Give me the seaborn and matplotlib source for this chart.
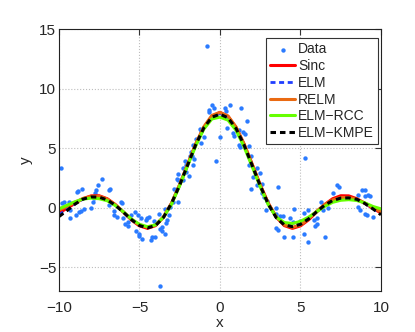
import numpy as np
import matplotlib
matplotlib.use("Agg")
import matplotlib.pyplot as plt
import seaborn as sns

# noisy samples
data_x = [-9.9, -9.8, -9.7, -9.4, -9.3, -9.3, -8.9, -8.8, -8.55, -8.95,
          -8.75, -8.6, -8.45, -8.0, -7.9, -7.75, -7.7, -7.55, -7.35, -7.8,
          -6.9, -6.85, -6.9, -6.6, -6.6, -6.4, -6.15, -6.1, -6.0, -5.9,
          -5.7, -5.7, -5.5, -5.3, -5.2, -5.05, -5.0, -5.1, -4.85, -4.9,
          -4.6, -4.5, -4.3, -4.2, -4.05, -4.1, -4.4, -3.8, -3.7, -3.4,
          -3.4, -3.75, -3.6, -3.6, -3.35, -3.3, -3.15, -3.1, -2.9, -2.6,
          -2.85, -2.6, -2.65, -2.3, -1.95, -2.3, -2.2, -2.1, -1.65, -1.8,
          -1.85, -1.75, -1.6, -1.15, -0.25, -0.8, -0.5, -0.35, -0.7, -0.65,
          0.3, 0.6, 0.35, 1.3, 1.7, 0.45, 0.8, 0.9, 1.2, 0.0,
          -1.15, -1.0, -1.25, -1.5, -1.65, -2.1, -2.6, 1.8, 1.55, 1.45,
          1.2, 1.95, 2.05, 1.8, 2.3, 2.5, 1.9, 2.3, 2.6, 2.85,
          5.3, 3.6, 3.5, 3.45, 3.7, 3.9, 3.5, 3.6, 3.95, 4.35,
          4.55, 4.6, 4.55, 4.95, 5.2, 5.45, 5.25, 5.45, 5.85, 5.9,
          6.0, 6.05, 6.3, 6.4, 6.55, 6.7, 7.05, 7.25, 7.4, 8.55,
          8.8, 9.0, 9.2, 9.0, 8.55, 8.7, 9.0, 9.15, 9.5, 2.75,
          2.6, 2.9, 9.3, 1.25]
data_y = [3.3, 0.4, 0.5, 0.5, -0.9, -0.2, 1.3, 1.4, 1.6, -0.6,
          -0.4, -0.3, -0.1, 0.0, 0.5, 1.2, 1.5, 1.9, 2.4, 0.8,
          1.5, 1.6, 0.25, -0.3, -0.6, -0.8, 0.5, 0.4, -0.9, -1.4,
          -1.55, -1.2, -0.6, -0.35, -2.0, -2.25, -2.4, -0.6, -2.6, -0.9,
          -1.0, -0.9, -2.7, -2.5, -2.5, -1.1, -0.8, -0.5, -1.8, -2.25,
          -0.1, -6.6, -2.0, -1.6, -1.3, -1.0, -0.65, 0.05, 0.5, 0.5,
          1.55, 2.3, 2.4, 2.3, 2.7, 3.3, 3.9, 3.6, 3.6, 4.7,
          4.3, 4.3, 4.1, 5.4, 3.9, 13.6, 8.6, 8.4, 8.2, 8.0,
          8.4, 8.6, 8.1, 8.4, 7.3, 6.7, 6.3, 6.0, 5.25, 5.9,
          6.4, 5.9, 6.6, 5.8, 5.25, 3.0, 2.8, 3.6, 6.2, 6.35,
          6.5, 4.3, 2.6, 5.2, 3.3, 2.9, 1.55, 1.9, 2.0, -0.2,
          4.2, 1.7, 0.0, -0.5, -0.7, -0.7, -1.7, -1.9, -2.45, -0.85,
          -1.2, -0.1, -2.5, -1.15, -2.2, -2.9, -0.45, -0.2, -1.0, -1.55,
          -1.35, -0.9, 0.45, -0.2, -2.5, 0.0, 1.2, 1.9, 1.7, 1.1,
          1.45, 1.45, 1.1, 0.95, 0.05, -0.2, -0.5, -0.6, -0.8, 0.9,
          1.2, 0.6, 1.0, 5.1]

# fitted curves, sampled every 0.5 from -10 to 10
x_grid = np.linspace(-10, 10, 41)
sinc_y = [-0.44, -0.06, 0.37, 0.75, 0.99, 1.00, 0.75, 0.26, -0.37, -1.03,
          -1.53, -1.74, -1.51, -0.80, 0.38, 1.92, 3.64, 5.32, 6.73, 7.67,
          8.00, 7.67, 6.73, 5.32, 3.64, 1.92, 0.38, -0.80, -1.51, -1.74,
          -1.53, -1.03, -0.37, 0.26, 0.75, 1.00, 0.99, 0.75, 0.37, -0.06, -0.44]
elm_y = [-0.6, -0.15, 0.35, 0.72, 0.9, 0.9, 0.68, 0.22, -0.37, -1.0,
         -1.48, -1.68, -1.48, -0.78, 0.38, 1.9, 3.62, 5.3, 6.72, 7.62,
         7.9, 7.6, 6.7, 5.28, 3.58, 1.86, 0.3, -0.82, -1.42, -1.55,
         -1.35, -0.9, -0.32, 0.2, 0.6, 0.78, 0.8, 0.68, 0.35, -0.08, -0.5]
relm_y = [-0.2, 0.1, 0.45, 0.78, 0.95, 0.95, 0.72, 0.25, -0.35, -0.98,
          -1.45, -1.65, -1.45, -0.75, 0.4, 1.95, 3.68, 5.38, 6.8, 7.75,
          8.0, 7.7, 6.78, 5.35, 3.65, 1.9, 0.35, -0.78, -1.45, -1.65,
          -1.45, -0.95, -0.3, 0.25, 0.65, 0.85, 0.85, 0.7, 0.38, 0.02, -0.35]
rcc_y = [-0.1, 0.2, 0.5, 0.72, 0.8, 0.75, 0.58, 0.18, -0.35, -0.95,
         -1.4, -1.6, -1.45, -0.8, 0.3, 1.85, 3.55, 5.2, 6.6, 7.45,
         7.6, 7.35, 6.5, 5.1, 3.45, 1.75, 0.25, -0.8, -1.25, -1.33,
         -1.15, -0.8, -0.35, 0.1, 0.45, 0.62, 0.67, 0.6, 0.4, 0.1, -0.1]
kmpe_y = [-0.75, -0.25, 0.3, 0.72, 0.9, 0.88, 0.65, 0.2, -0.38, -1.0,
          -1.5, -1.7, -1.5, -0.8, 0.38, 1.9, 3.6, 5.3, 6.7, 7.6,
          7.85, 7.55, 6.65, 5.25, 3.55, 1.85, 0.3, -0.85, -1.45, -1.6,
          -1.4, -0.95, -0.35, 0.2, 0.6, 0.8, 0.82, 0.7, 0.35, -0.1, -0.6]

sns.set_style("white")
plt.rcParams['font.family'] = ['Liberation Sans', 'DejaVu Sans']

fig = plt.figure(figsize=(4.15, 3.32), dpi=100)
ax = fig.add_axes([0.142, 0.1235, 0.776, 0.789])

sns.scatterplot(x=data_x, y=data_y, s=10, color='#2b7bff', linewidth=0,
                label='Data', ax=ax, zorder=2)
dash = (0, (1.8, 1.3))
sns.lineplot(x=x_grid, y=sinc_y, color='#ff0000', lw=2.2, label='Sinc', ax=ax)
sns.lineplot(x=x_grid, y=elm_y, color='#1f3dff', lw=2, linestyle=dash, label='ELM', ax=ax)
sns.lineplot(x=x_grid, y=relm_y, color='#ea6a12', lw=2.2, label='RELM', ax=ax)
sns.lineplot(x=x_grid, y=rcc_y, color='#66ff00', lw=2.2, label='ELM\u2212RCC', ax=ax)
sns.lineplot(x=x_grid, y=kmpe_y, color='black', lw=2.2, linestyle=dash, label='ELM\u2212KMPE', ax=ax)

ax.set_xlim(-10, 10)
ax.set_ylim(-7, 15)
ax.set_xticks([-10, -5, 0, 5, 10])
ax.set_yticks([-5, 0, 5, 10, 15])
ax.grid(True, linestyle=':', color='#bdbdbd', linewidth=0.8)
ax.tick_params(direction='in', length=4, labelsize=11, top=True, right=True,
               color='#333333')
ax.tick_params(axis='x', pad=7)
ax.tick_params(axis='y', pad=2)
for s in ax.spines.values():
    s.set_color('#222222')
    s.set_linewidth(0.8)
ax.set_xlabel('x', fontsize=11, labelpad=1)
ax.set_ylabel('y', fontsize=11, labelpad=4)

leg = ax.legend(loc='upper right', bbox_to_anchor=(378 / 415, 1 - 38 / 332),
                bbox_transform=fig.transFigure, borderaxespad=0, fontsize=10,
                fancybox=False, framealpha=1, edgecolor='#333333',
                handlelength=1.8, handletextpad=0.2, labelspacing=0.2,
                borderpad=0.3)
leg.get_frame().set_linewidth(0.8)

fig.savefig('out.png', dpi=100)
